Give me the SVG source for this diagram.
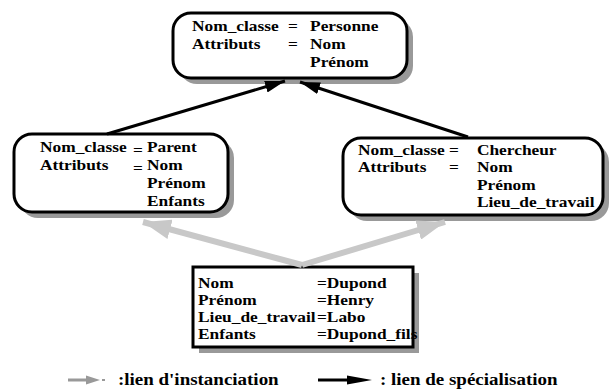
<svg xmlns="http://www.w3.org/2000/svg" width="611" height="392" viewBox="0 0 611 392">
  <style>
    .t { font-family: "Liberation Serif", "Times New Roman", serif; font-weight: bold; font-size: 15.5px; fill: #000; }
    .lg { font-family: "Liberation Serif", "Times New Roman", serif; font-weight: bold; font-size: 16.5px; fill: #000; }
    .box { fill: #fff; stroke: #000; stroke-width: 3; }
    .shadow { fill: #999; stroke: none; }
    .spec { stroke: #000; stroke-width: 3; fill: none; }
    .inst { stroke: #c8c8c8; stroke-width: 6; fill: none; }
  </style>
  <defs>
    <marker id="headBlack" markerUnits="userSpaceOnUse" markerWidth="22" markerHeight="12" refX="20" refY="6" orient="auto">
      <path d="M0,0 L20,6 L0,12 Z" fill="#000"/>
    </marker>
    <marker id="headGray" markerUnits="userSpaceOnUse" markerWidth="30" markerHeight="20" refX="28" refY="10" orient="auto">
      <path d="M0,0 L28,10 L0,20 Z" fill="#c8c8c8"/>
    </marker>
  </defs>
  <rect width="611" height="392" fill="#fff"/>

  <!-- class Personne -->
  <g id="personne">
    <rect class="shadow" x="179" y="19" width="234" height="65" rx="18"/>
    <rect class="box" x="173" y="13" width="234" height="65" rx="18"/>
    <g transform="translate(192,0) scale(1.12,1)">
      <text class="t" x="0" y="31">Nom_classe</text>
      <text class="t" x="85.7" y="31">=</text>
      <text class="t" x="105.4" y="31">Personne</text>
      <text class="t" x="0" y="49">Attributs</text>
      <text class="t" x="85.7" y="49">=</text>
      <text class="t" x="105.4" y="49">Nom</text>
      <text class="t" x="105.4" y="67">Prénom</text>
    </g>
  </g>

  <!-- class Parent -->
  <g id="parent">
    <rect class="shadow" x="20" y="140" width="214" height="78" rx="18"/>
    <rect class="box" x="14" y="134" width="214" height="78" rx="18"/>
    <g transform="translate(40,0) scale(1.12,1)">
      <text class="t" x="0" y="152">Nom_classe</text>
      <text class="t" x="83" y="155">=</text>
      <text class="t" x="95.5" y="152">Parent</text>
      <text class="t" x="0" y="170">Attributs</text>
      <text class="t" x="83" y="173">=</text>
      <text class="t" x="95.5" y="170">Nom</text>
      <text class="t" x="95.5" y="188">Prénom</text>
      <text class="t" x="95.5" y="206">Enfants</text>
    </g>
  </g>

  <!-- class Chercheur -->
  <g id="chercheur">
    <rect class="shadow" x="349" y="144" width="260" height="77" rx="18"/>
    <rect class="box" x="343" y="138" width="260" height="77" rx="18"/>
    <g transform="translate(358,0) scale(1.12,1)">
      <text class="t" x="0" y="155">Nom_classe</text>
      <text class="t" x="81.2" y="155">=</text>
      <text class="t" x="106.2" y="155">Chercheur</text>
      <text class="t" x="0" y="172">Attributs</text>
      <text class="t" x="81.2" y="172">=</text>
      <text class="t" x="106.2" y="172">Nom</text>
      <text class="t" x="106.2" y="190">Prénom</text>
      <text class="t" x="106.2" y="207">Lieu_de_travail</text>
    </g>
  </g>

  <!-- instance Dupond -->
  <g id="dupond">
    <rect class="shadow" x="199" y="273" width="220" height="80"/>
    <rect class="box" x="193" y="267" width="220" height="80"/>
    <g transform="translate(198,0) scale(1.12,1)">
      <text class="t" x="0" y="288">Nom</text>
      <text class="t" x="106.2" y="288">=Dupond</text>
      <text class="t" x="0" y="305">Prénom</text>
      <text class="t" x="106.2" y="305">=Henry</text>
      <text class="t" x="0" y="322">Lieu_de_travail</text>
      <text class="t" x="106.2" y="322">=Labo</text>
      <text class="t" x="0" y="339">Enfants</text>
      <text class="t" x="106.2" y="339">=Dupond_fils</text>
    </g>
  </g>

  <!-- links -->
  <g id="connectors">
    <line class="spec" x1="107" y1="134" x2="285" y2="81" marker-end="url(#headBlack)"/>
    <line class="spec" x1="468" y1="137" x2="300" y2="82" marker-end="url(#headBlack)"/>
    <line class="inst" x1="302" y1="265" x2="143" y2="222" marker-end="url(#headGray)"/>
    <line class="inst" x1="302" y1="265" x2="445" y2="222" marker-end="url(#headGray)"/>
  </g>

  <!-- legend -->
  <g id="legend">
    <line x1="68" y1="380" x2="89" y2="380" stroke="#999" stroke-width="3"/>
    <path d="M86,375.5 L100,380 L86,384.5 Z" fill="#999"/>
    <line x1="102" y1="380" x2="105" y2="380" stroke="#999" stroke-width="2"/>
    <text class="lg" x="0" y="385" transform="translate(118,0) scale(1.15,1)">:lien d'instanciation</text>
    <line x1="318" y1="380" x2="350" y2="380" stroke="#000" stroke-width="3"/>
    <path d="M347,375.5 L372,380 L347,384.5 Z" fill="#000"/>
    <text class="lg" x="0" y="385" transform="translate(380,0) scale(1.15,1)">: lien de spécialisation</text>
  </g>
</svg>
